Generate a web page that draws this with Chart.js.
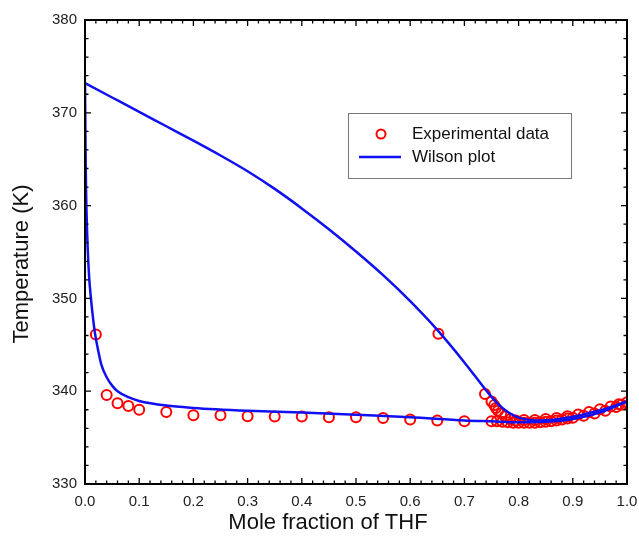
<!DOCTYPE html>
<html>
<head>
<meta charset="utf-8">
<script src="https://cdn.jsdelivr.net/npm/chart.js@4.4.0/dist/chart.umd.min.js"></script>
<style>
  html, body { margin: 0; padding: 0; background: #fff; }
  #wrap { width: 639px; height: 542px; }
</style>
</head>
<body>
<div id="wrap"><canvas id="vleChart" width="639" height="542"></canvas></div>
<script>
// Experimental points (mole fraction THF, temperature K)
const expX = [0.02, 0.04, 0.06, 0.08, 0.10, 0.15, 0.20, 0.25, 0.30, 0.35, 0.40, 0.45, 0.50, 0.55, 0.60, 0.65, 0.70, 0.75,
  0.652, 0.738, 0.750, 0.755, 0.758, 0.762, 0.768, 0.775, 0.785, 0.795,
  0.76, 0.77, 0.78, 0.79, 0.80, 0.81, 0.82, 0.83, 0.84, 0.85, 0.86, 0.87, 0.88, 0.89, 0.90, 0.92, 0.94, 0.96, 0.98, 0.99, 1.00,
  0.81, 0.83, 0.85, 0.87, 0.89, 0.91, 0.93, 0.95, 0.97, 0.985];
const expT = [346.1, 339.6, 338.7, 338.4, 338.0, 337.75, 337.4, 337.4, 337.3, 337.27, 337.27, 337.2, 337.2, 337.1, 336.95, 336.85, 336.75, 336.75,
  346.2, 339.7, 338.9, 338.5, 338.2, 337.9, 337.6, 337.3, 337.0, 336.85,
  336.75, 336.7, 336.65, 336.6, 336.6, 336.6, 336.6, 336.6, 336.65, 336.7, 336.75, 336.85, 336.95, 337.05, 337.15, 337.35, 337.6, 337.9, 338.3, 338.55, 338.8,
  336.9, 336.9, 337.0, 337.1, 337.3, 337.5, 337.75, 338.05, 338.35, 338.6];

// Wilson model, dew curve
const dewX = [0, 0.05, 0.1, 0.15, 0.2, 0.25, 0.3, 0.35, 0.4, 0.45, 0.5, 0.55, 0.6, 0.65, 0.7, 0.72, 0.74, 0.76, 0.78, 0.8, 0.82, 0.84, 0.86, 0.88, 0.9, 0.92, 0.94, 0.96, 0.98, 1.0];
const dewT = [373.2, 371.65, 370.1, 368.55, 367.0, 365.4, 363.7, 361.8, 359.7, 357.45, 355.05, 352.5, 349.7, 346.6, 343.1, 341.6, 340.1, 338.75, 337.75, 337.15, 336.9, 336.85, 336.9, 337.05, 337.25, 337.5, 337.8, 338.1, 338.5, 338.9];

// Wilson model, bubble curve
const bubX = [0, 0.001, 0.002, 0.004, 0.006, 0.008, 0.010, 0.014, 0.018, 0.025, 0.03, 0.04, 0.05, 0.06, 0.08, 0.1, 0.15, 0.2, 0.3, 0.4, 0.5, 0.6, 0.7, 0.75, 0.8, 0.85, 0.9, 0.95, 1.0];
const bubT = [373.2, 366.0, 361.5, 357.0, 354.0, 352.0, 350.6, 348.3, 346.4, 344.2, 342.9, 341.5, 340.6, 340.0, 339.35, 338.95, 338.45, 338.2, 337.9, 337.7, 337.45, 337.2, 336.85, 336.75, 336.65, 336.7, 337.0, 337.7, 338.9];

const legendLabels = ['Experimental data', 'Wilson plot'];
const xTitle = 'Mole fraction of THF';
const yTitle = 'Temperature (K)';

const toPoints = (xs, ys) => xs.map((x, i) => ({ x: x, y: ys[i] }));

const FONT = '"Liberation Sans", Arial, sans-serif';

// frame, inward ticks on all sides, axis titles and legend box
const framePlugin = {
    id: 'frame',
    afterDraw(chart) {
        const c = chart.ctx;
        const a = chart.chartArea;
        const xs = chart.scales.x;
        const ys = chart.scales.y;
        c.save();
        c.strokeStyle = '#000';
        c.lineWidth = 1.3;
        c.beginPath();
        for (let v = 0; v <= 50; v++) {
            const px = xs.getPixelForValue(v * 0.02);
            const len = v % 5 === 0 ? 6 : 3.5;
            c.moveTo(px, a.bottom); c.lineTo(px, a.bottom - len);
            c.moveTo(px, a.top); c.lineTo(px, a.top + len);
        }
        for (let t = 330; t <= 380; t += 2) {
            const py = ys.getPixelForValue(t);
            const len = t % 10 === 0 ? 6 : 3.5;
            c.moveTo(a.left, py); c.lineTo(a.left + len, py);
            c.moveTo(a.right, py); c.lineTo(a.right - len, py);
        }
        c.stroke();
        c.lineWidth = 2;
        c.strokeRect(a.left, a.top, a.right - a.left, a.bottom - a.top);

        // axis titles
        c.fillStyle = '#111';
        c.font = '22px ' + FONT;
        c.textAlign = 'center';
        c.textBaseline = 'middle';
        c.fillText(xTitle, 328, 523);
        c.translate(22, 264);
        c.rotate(-Math.PI / 2);
        c.fillText(yTitle, 0, 0);
        c.restore();

        // legend
        c.save();
        c.strokeStyle = '#777';
        c.lineWidth = 1;
        c.strokeRect(348.5, 113.5, 223, 65);
        const ptDs = chart.data.datasets[2];
        const lnDs = chart.data.datasets[0];
        c.strokeStyle = ptDs.borderColor;
        c.lineWidth = 2;
        c.beginPath();
        c.arc(381, 134, 4.5, 0, Math.PI * 2);
        c.stroke();
        c.strokeStyle = lnDs.borderColor;
        c.lineWidth = 2.5;
        c.beginPath();
        c.moveTo(359, 157); c.lineTo(401, 157);
        c.stroke();
        c.fillStyle = '#111';
        c.font = '17px ' + FONT;
        c.textAlign = 'left';
        c.textBaseline = 'middle';
        c.fillText(legendLabels[0], 412, 134);
        c.fillText(legendLabels[1], 412, 157);
        c.restore();
    }
};

const ctx = document.getElementById('vleChart').getContext('2d');
const vleChart = new Chart(ctx, {
    type: 'scatter',
    data: {
        datasets: [
            {
                label: 'Wilson dew',
                data: toPoints(dewX, dewT),
                showLine: true,
                borderColor: '#1010f0',
                borderWidth: 2.5,
                pointRadius: 0,
                cubicInterpolationMode: 'monotone',
                order: 0
            },
            {
                label: 'Wilson bubble',
                data: toPoints(bubX, bubT),
                showLine: true,
                borderColor: '#1010f0',
                borderWidth: 2.5,
                pointRadius: 0,
                cubicInterpolationMode: 'monotone',
                order: 1
            },
            {
                label: legendLabels[0],
                data: toPoints(expX, expT),
                showLine: false,
                pointStyle: 'circle',
                pointRadius: 5,
                borderColor: '#ff0000',
                backgroundColor: 'rgba(0,0,0,0)',
                borderWidth: 2,
                order: 2
            }
        ]
    },
    options: {
        responsive: false,
        animation: false,
        layout: { padding: { top: 20, right: 12, left: 0, bottom: 0 } },
        plugins: {
            legend: { display: false },
            tooltip: { enabled: false }
        },
        scales: {
            x: {
                type: 'linear',
                min: 0,
                max: 1,
                grid: { display: false, drawTicks: false },
                border: { display: false },
                ticks: {
                    stepSize: 0.1,
                    padding: 9,
                    color: '#222',
                    font: { family: FONT, size: 15 },
                    callback: v => v.toFixed(1)
                },
                afterFit: s => { s.height = 58; s.paddingRight = 0; s.paddingLeft = 0; }
            },
            y: {
                type: 'linear',
                min: 330,
                max: 380,
                grid: { display: false, drawTicks: false },
                border: { display: false },
                ticks: {
                    stepSize: 10,
                    padding: 8,
                    color: '#222',
                    font: { family: FONT, size: 15 }
                },
                afterFit: s => { s.width = 85; s.paddingTop = 0; s.paddingBottom = 0; }
            }
        }
    },
    plugins: [framePlugin]
});
</script>
</body>
</html>
